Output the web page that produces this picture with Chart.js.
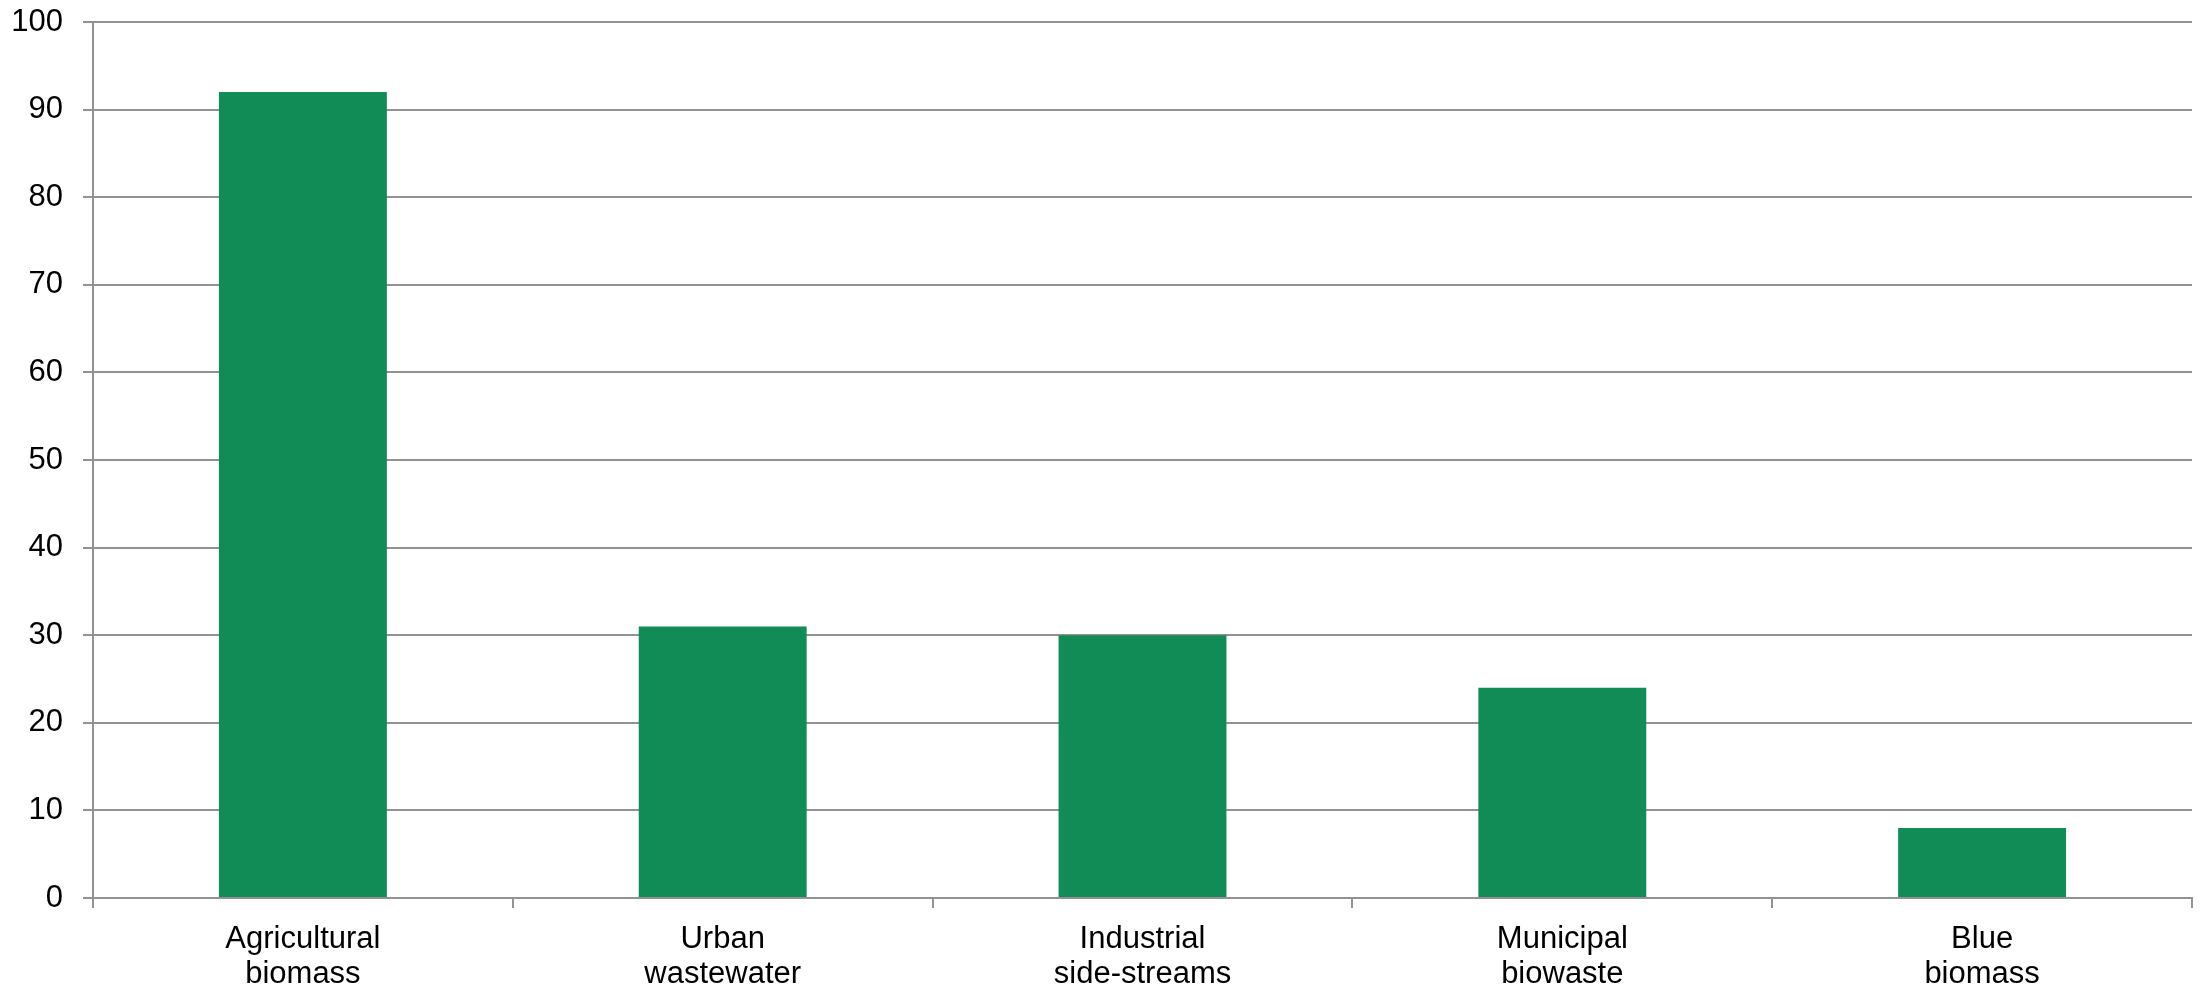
<!DOCTYPE html>
<html>
<head>
<meta charset="utf-8">
<script src="https://cdn.jsdelivr.net/npm/chart.js@4/dist/chart.umd.min.js"></script>
<style>
  html, body { margin: 0; padding: 0; background: #ffffff; }
  #wrap { width: 2201px; height: 987px; }
</style>
</head>
<body>
<div id="wrap"><canvas id="c" width="2201" height="987"></canvas></div>
<script>
const categories = [
  ["Agricultural", "biomass"],
  ["Urban", "wastewater"],
  ["Industrial", "side-streams"],
  ["Municipal", "biowaste"],
  ["Blue", "biomass"]
];
const values = [92, 31, 30, 24, 8];
const yTicks = [0, 10, 20, 30, 40, 50, 60, 70, 80, 90, 100];

const GRID = '#929292';
const FONT = { family: '"Liberation Sans", Arial, sans-serif', size: 31 };

new Chart(document.getElementById('c'), {
  type: 'bar',
  data: {
    labels: categories,
    datasets: [{
      data: values,
      backgroundColor: '#128C57',
      borderWidth: 0,
      barPercentage: 0.4,
      categoryPercentage: 1.0
    }]
  },
  options: {
    responsive: false,
    animation: false,
    devicePixelRatio: 1,
    layout: { padding: { top: 0, right: 9, bottom: 0, left: 0 } },
    plugins: { legend: { display: false }, tooltip: { enabled: false } },
    scales: {
      x: {
        offset: true,
        grid: {
          offset: true,
          drawOnChartArea: false,
          drawTicks: true,
          tickLength: 10,
          color: GRID,
          lineWidth: 2
        },
        border: { display: true, color: GRID, width: 2 },
        ticks: {
          color: '#000',
          font: { ...FONT, lineHeight: 1.13 },
          padding: 14,
          maxRotation: 0,
          autoSkip: false
        },
        afterFit(scale) { scale.height = 89; scale.paddingLeft = 0; scale.paddingRight = 0; }
      },
      y: {
        min: 0,
        max: 100,
        afterBuildTicks(scale) { scale.ticks = yTicks.map(v => ({ value: v })); },
        grid: {
          color: GRID,
          lineWidth: 2,
          drawTicks: true,
          tickLength: 10
        },
        border: { display: true, color: GRID, width: 2 },
        ticks: {
          color: '#000',
          font: FONT,
          padding: 20
        },
        afterFit(scale) { scale.width = 93; scale.paddingTop = 22; scale.paddingBottom = 0; }
      }
    }
  }
});
</script>
</body>
</html>
